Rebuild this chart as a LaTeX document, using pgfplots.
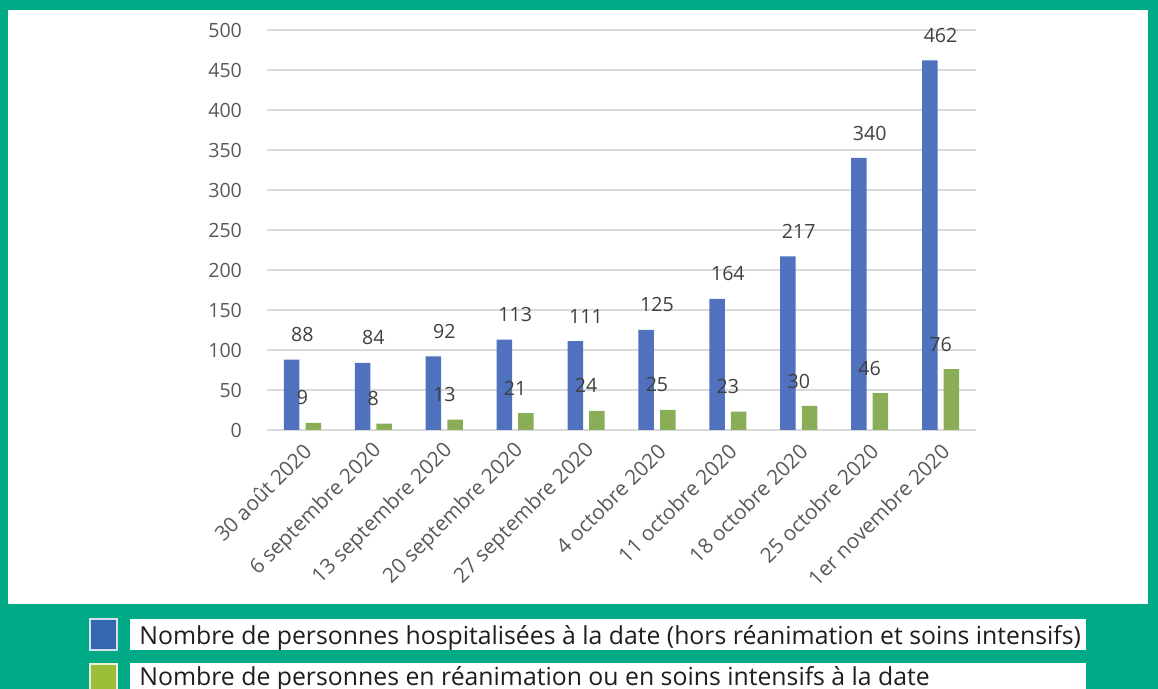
\documentclass[border=0pt]{standalone}
\usepackage{fontspec}
\setmainfont{Open Sans}
\usepackage{pgfplots}
\pgfplotsset{compat=1.18}
\definecolor{framec}{HTML}{00AA86}
\definecolor{barblue}{HTML}{4F71BE}
\definecolor{bargreen}{HTML}{8AAE57}
\definecolor{legblue}{HTML}{3566B1}
\definecolor{leggreen}{HTML}{9CBF3A}
\definecolor{gridc}{HTML}{D9D9D9}
\definecolor{tickc}{HTML}{595959}
\definecolor{labc}{HTML}{404040}
\definecolor{legtext}{HTML}{1E1E1E}
\begin{document}
\begin{tikzpicture}
\clip (0,0) rectangle (579pt,344.5pt);
\begin{scope}[x=0.5pt,y=-0.5pt,yshift=344.5pt]
\fill[framec] (0,0) rectangle (1158,689);
\fill[white] (8,10) rectangle (1148,604);
\fill[white] (130,619) rectangle (1086,650);
\fill[white] (130,663) rectangle (1086,700);
\filldraw[fill=legblue,draw=white!80!legblue,line width=0.6pt] (90,619) rectangle (117,650);
\filldraw[fill=leggreen,draw=white!80!leggreen,line width=0.6pt] (90,664) rectangle (117,700);
\node[anchor=base west,inner sep=0pt,text=legtext,font=\fontsize{12.4pt}{14pt}\selectfont] at (139,645) {Nombre de personnes hospitalisées à la date (hors réanimation et soins intensifs)};
\node[anchor=base west,inner sep=0pt,text=legtext,font=\fontsize{12.4pt}{14pt}\selectfont] at (139,686) {Nombre de personnes en réanimation ou en soins intensifs à la date};
\end{scope}
\begin{axis}[
  at={(133.5pt,129.5pt)}, anchor=south west,
  scale only axis, width=354.5pt, height=200pt,
  /pgf/number format/assume math mode=true,
  ymin=0, ymax=500, ytick={0,50,...,500},
  xmin=-0.5, xmax=9.5, xtick={0,...,9},
  xticklabels={30 août 2020,6 septembre 2020,13 septembre 2020,20 septembre 2020,27 septembre 2020,4 octobre 2020,11 octobre 2020,18 octobre 2020,25 octobre 2020,1er novembre 2020},
  axis line style={draw=none},
  major tick length=0pt, tick style={draw=none},
  ymajorgrids, grid style={gridc, line width=0.9pt},
  yticklabel style={anchor=east, xshift=-9pt, font=\fontsize{9.8pt}{11pt}\selectfont, text=tickc},
  xticklabel style={rotate=45, anchor=east, xshift=-1pt, yshift=-8pt, font=\fontsize{10.4pt}{12pt}\selectfont, text=tickc},
  clip=false,
  every node near coord/.append style={anchor=center, yshift=12.5pt, font=\fontsize{9.8pt}{11pt}\selectfont, text=labc},
]
\addplot[ybar, fill=barblue, draw=none, bar width=7.75pt, bar shift=-5.4pt, nodes near coords] coordinates {(0,88) (1,84) (2,92) (3,113) (4,111) (5,125) (6,164) (7,217) (8,340) (9,462)};
\addplot[ybar, fill=bargreen, draw=none, bar width=7.75pt, bar shift=5.4pt, nodes near coords] coordinates {(0,9) (1,8) (2,13) (3,21) (4,24) (5,25) (6,23) (7,30) (8,46) (9,76)};
\end{axis}
\end{tikzpicture}
\end{document}
